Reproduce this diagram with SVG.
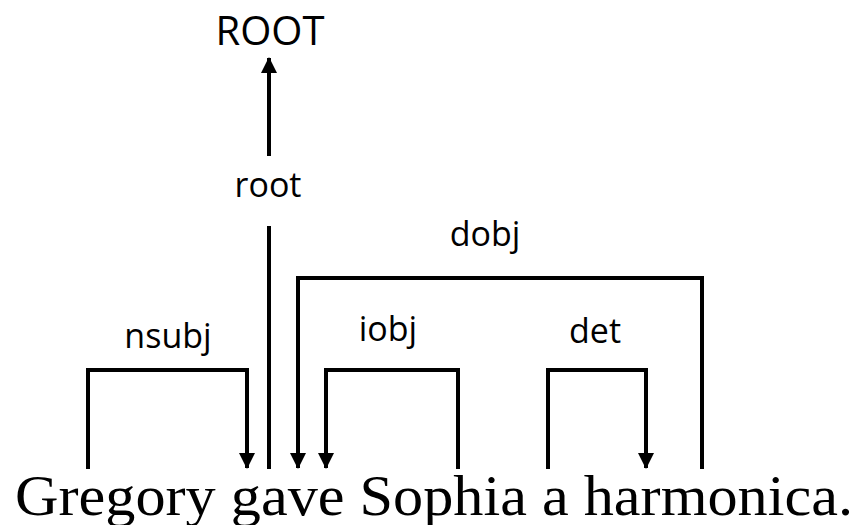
<svg xmlns="http://www.w3.org/2000/svg" width="860" height="525" viewBox="0 0 860 525">
  <style>
    .label { font-family: "Open Sans", "Liberation Sans", sans-serif; font-size: 34px; fill: #000; text-anchor: middle; }
    .root { font-size: 40px; }
    .sentence { font-family: "Liberation Serif", "DejaVu Serif", serif; font-size: 57px; fill: #000; }
    .edge { fill: none; stroke: #000; stroke-width: 4; stroke-linejoin: miter; stroke-linecap: butt; }
  </style>
  <defs>
    <!-- filled triangular arrowhead, tip placed at the path end -->
    <marker id="head" viewBox="0 0 16 16" refX="15" refY="8" markerWidth="16" markerHeight="16" markerUnits="userSpaceOnUse" orient="auto">
      <path d="M0,0 L16,8 L0,16 Z" fill="#000"/>
    </marker>
  </defs>
  <rect width="860" height="525" fill="#fff"/>

  <g id="node-root">
    <text class="label root" x="270" y="45">ROOT</text>
  </g>

  <g id="sentence">
    <text class="sentence" x="15" y="515" textLength="838" lengthAdjust="spacingAndGlyphs">Gregory gave Sophia a harmonica.</text>
  </g>

  <g id="connectors">
    <!-- root: gave -> ROOT -->
    <line class="edge" x1="269" y1="469" x2="269" y2="226"/>
    <line class="edge" x1="269" y1="156" x2="269" y2="58" marker-end="url(#head)"/>
    <!-- nsubj: gave -> Gregory -->
    <path class="edge" d="M88,469 V370 H247 V468" marker-end="url(#head)"/>
    <!-- dobj: gave -> harmonica -->
    <path class="edge" d="M702,469 V278 H298 V468" marker-end="url(#head)"/>
    <!-- iobj: gave -> Sophia -->
    <path class="edge" d="M458,469 V370 H326 V468" marker-end="url(#head)"/>
    <!-- det: harmonica -> a -->
    <path class="edge" d="M548,469 V370 H646 V468" marker-end="url(#head)"/>
  </g>

  <g id="labels">
    <text class="label" x="268" y="197">root</text>
    <text class="label" x="168" y="348">nsubj</text>
    <text class="label" x="485" y="246">dobj</text>
    <text class="label" x="388" y="341">iobj</text>
    <text class="label" x="595" y="343">det</text>
  </g>
</svg>
